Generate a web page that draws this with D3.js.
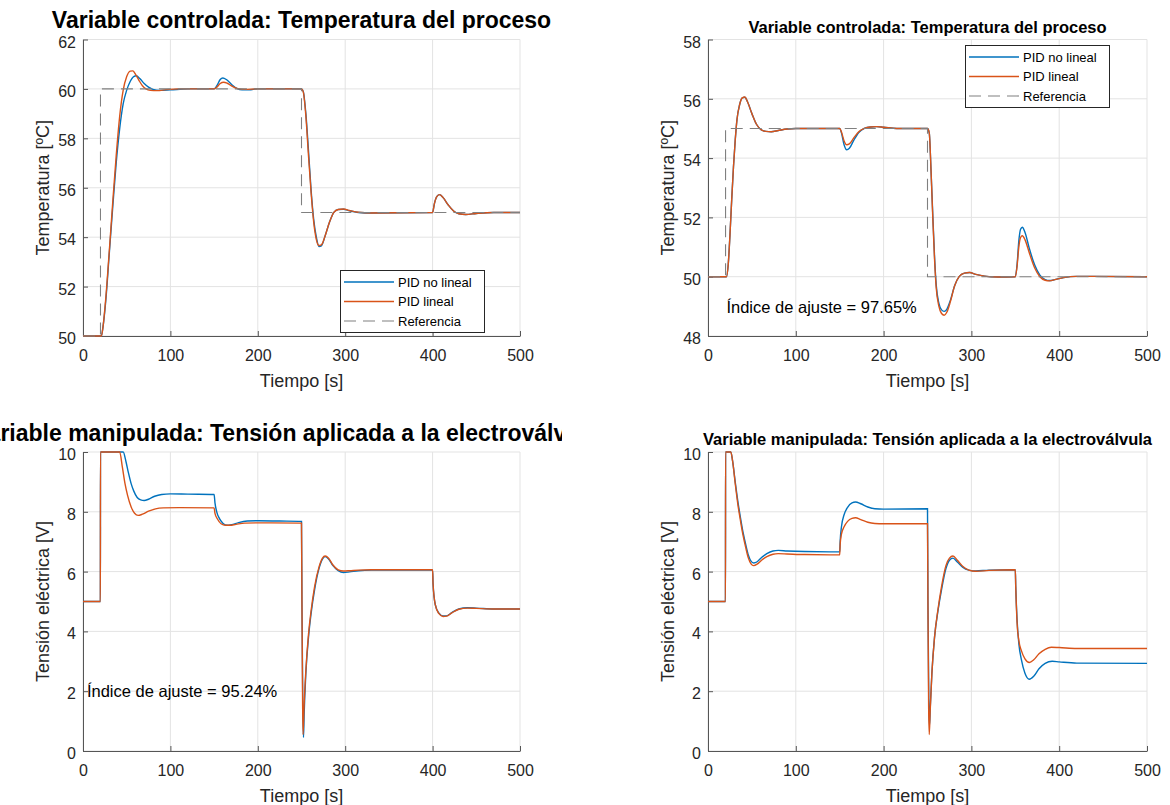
<!DOCTYPE html>
<html><head><meta charset="utf-8">
<script src="https://cdn.jsdelivr.net/npm/d3@7"></script>
<style>body{margin:0;background:#fff} text{font-family:"Liberation Sans",Arial,Helvetica,sans-serif}</style>
</head><body><svg id="c" width="1170" height="805"></svg>
<script>
// ---------- data ----------
const timeTicks = [0,100,200,300,400,500];
const tempTicksA = [50,52,54,56,58,60,62];
const tempTicksB = [48,50,52,54,56,58];
const voltTicks = [0,2,4,6,8,10];
const seriesNames = ["PID no lineal","PID lineal","Referencia"];
const titles = ["Variable controlada: Temperatura del proceso","Variable manipulada: Tensión aplicada a la electroválvula"];
const yLabels = ["Temperatura [ºC]","Tensión eléctrica [V]"];
const xLabel = "Tiempo [s]";
const fitTexts = ["Índice de ajuste = 97.65%","Índice de ajuste = 95.24%"];

// Panel A (top-left): temperature
const refA = [[0,50],[20,50],[20,60],[250,60],[250,55],[500,55]];
const blueA = [[0,50],[21,50],[23,50.4],[26,51.4],[30,53.3],[34,55.2],[38,57],[42,58.4],[46,59.4],[50,59.95],[54,60.3],[58,60.5],[61,60.53],[65,60.42],[70,60.22],[75,60.07],[80,59.98],[88,59.94],[100,59.96],[120,60],[150,60],[153,60.12],[157,60.38],[160,60.44],[164,60.38],[170,60.18],[176,60.02],[182,59.96],[190,59.96],[200,60],[250,60],[252,59.9],[255,59],[258,57.5],[261,55.9],[264,54.7],[267,54],[270,53.62],[273,53.66],[277,54.05],[282,54.6],[287,55],[292,55.12],[298,55.13],[305,55.07],[315,55],[330,54.98],[400,55],[402,55.35],[405,55.65],[408,55.72],[412,55.6],[418,55.3],[424,55.06],[430,54.95],[438,54.92],[450,54.96],[470,55],[500,55]];
const orangeA = [[0,50],[21,50],[23,50.4],[26,51.5],[30,53.4],[34,55.4],[38,57.3],[42,58.9],[46,59.95],[50,60.5],[54,60.72],[57,60.73],[60,60.6],[64,60.35],[68,60.13],[72,60.0],[77,59.94],[85,59.93],[95,59.97],[110,60],[150,60],[153,60.07],[157,60.22],[161,60.27],[165,60.23],[171,60.1],[177,60.01],[185,59.98],[200,60],[250,60],[252,59.88],[255,58.9],[258,57.3],[261,55.8],[264,54.6],[267,53.9],[270,53.66],[273,53.7],[277,54.05],[282,54.6],[287,55.0],[292,55.12],[298,55.14],[305,55.08],[315,55.01],[330,54.98],[400,55],[402,55.35],[405,55.65],[408,55.72],[412,55.6],[418,55.3],[424,55.06],[430,54.95],[438,54.92],[450,54.96],[470,55],[500,55]];

// Panel B (top-right): temperature
const refB = [[0,50],[20,50],[20,55],[250,55],[250,50],[500,50]];
const blueB = [[0,50],[21,50],[23,50.4],[25,51.4],[27,52.6],[29,53.7],[31,54.6],[33,55.3],[36,55.8],[39,56.03],[42,56.05],[45,55.9],[50,55.5],[55,55.15],[60,54.97],[66,54.9],[72,54.89],[80,54.93],[90,54.98],[100,55],[150,55],[152,54.85],[155,54.45],[158,54.28],[161,54.33],[166,54.6],[172,54.87],[178,55.0],[185,55.05],[192,55.06],[200,55.04],[215,55],[250,55],[252,54.85],[254,53.6],[256,52.1],[258,50.7],[260,49.7],[263,49.1],[266,48.88],[269,48.83],[272,48.9],[276,49.2],[281,49.7],[286,50.0],[292,50.12],[298,50.14],[305,50.08],[315,50.02],[330,49.99],[350,50],[352,50.4],[354,51.2],[356,51.6],[358,51.67],[361,51.5],[366,50.95],[372,50.4],[378,50.05],[384,49.9],[389,49.87],[395,49.9],[405,49.97],[420,50.01],[440,50.01],[500,50]];
const orangeB = [[0,50],[21,50],[23,50.4],[25,51.4],[27,52.6],[29,53.7],[31,54.6],[33,55.3],[36,55.8],[39,56.03],[42,56.06],[45,55.9],[50,55.5],[55,55.15],[60,54.97],[66,54.9],[72,54.89],[80,54.93],[90,54.98],[100,55],[150,55],[152,54.88],[155,54.58],[158,54.45],[161,54.48],[166,54.68],[172,54.9],[178,55.0],[185,55.05],[192,55.06],[200,55.04],[215,55],[250,55],[252,54.85],[254,53.6],[256,52.0],[258,50.6],[260,49.6],[263,49.0],[266,48.76],[269,48.7],[272,48.8],[276,49.15],[281,49.7],[286,50.0],[292,50.12],[298,50.14],[305,50.08],[315,50.02],[330,49.99],[350,50],[352,50.35],[354,51.0],[356,51.32],[358,51.38],[361,51.25],[366,50.8],[372,50.3],[378,50.0],[384,49.88],[389,49.86],[395,49.9],[405,49.97],[420,50.01],[440,50.01],[500,50]];

// Panel C (bottom-left): voltage
const blueC = [[0,5],[19.9,5],[20,10],[46,10],[49,9.7],[52,9.3],[55,8.95],[58,8.7],[62,8.48],[66,8.4],[70,8.38],[75,8.42],[82,8.52],[90,8.58],[100,8.6],[120,8.59],[150,8.58],[151,8.3],[153,8.0],[156,7.78],[160,7.62],[165,7.55],[170,7.57],[178,7.64],[188,7.69],[200,7.7],[225,7.69],[250,7.68],[250.5,5],[251.5,1.5],[252.3,0.45],[253,1.2],[255,2.6],[258,3.8],[261,4.6],[265,5.4],[270,6.1],[274,6.42],[277,6.5],[281,6.42],[286,6.2],[292,6.03],[298,5.97],[305,5.99],[315,6.03],[330,6.05],[400,6.05],[400.5,5.6],[403,4.9],[407,4.62],[412,4.52],[416,4.52],[422,4.63],[430,4.75],[440,4.79],[450,4.78],[470,4.75],[500,4.75]];
const orangeC = [[0,5],[19.9,5],[20,10],[42,10],[45,9.5],[48,8.95],[51,8.55],[55,8.17],[59,7.95],[63,7.88],[68,7.92],[75,8.02],[83,8.1],[92,8.13],[110,8.14],[150,8.13],[151,7.95],[154,7.75],[158,7.6],[163,7.55],[168,7.55],[175,7.58],[185,7.62],[200,7.63],[250,7.62],[250.5,5],[251.3,1.5],[251.8,0.55],[252.8,1.4],[255,2.7],[258,3.9],[261,4.7],[265,5.5],[270,6.15],[274,6.45],[277,6.52],[281,6.45],[286,6.22],[292,6.06],[298,6.02],[305,6.03],[315,6.05],[330,6.06],[400,6.06],[400.5,5.6],[403,4.9],[407,4.6],[412,4.5],[416,4.51],[422,4.62],[430,4.74],[440,4.78],[450,4.77],[470,4.75],[500,4.75]];

// Panel D (bottom-right): voltage
const blueD = [[0,5],[19.9,5],[20,10],[26,10],[28,9.7],[31,9.0],[34,8.35],[37,7.8],[40,7.3],[43,6.9],[46,6.55],[49,6.35],[52,6.29],[56,6.33],[61,6.47],[67,6.6],[74,6.69],[80,6.71],[90,6.69],[110,6.67],[150,6.66],[150.5,7.0],[152,7.5],[155,7.9],[159,8.15],[164,8.3],[168,8.33],[174,8.27],[182,8.16],[190,8.1],[200,8.09],[250,8.1],[250.5,5],[251.5,1.6],[252.3,0.85],[253.2,1.5],[255,2.6],[258,3.8],[262,4.7],[266,5.4],[271,6.1],[275,6.38],[279,6.45],[284,6.32],[290,6.15],[297,6.05],[305,6.02],[320,6.05],[350,6.06],[350.5,5.5],[352,4.4],[354,3.6],[357,3.05],[361,2.6],[366,2.4],[371,2.5],[377,2.75],[384,2.93],[392,3.0],[400,2.98],[420,2.94],[500,2.93]];
const orangeD = [[0,5],[19.9,5],[20,10],[26,10],[28,9.7],[31,8.95],[34,8.25],[37,7.7],[40,7.2],[43,6.8],[46,6.45],[49,6.26],[52,6.2],[56,6.25],[61,6.38],[67,6.5],[74,6.58],[80,6.6],[90,6.59],[110,6.57],[150,6.56],[150.5,6.9],[152,7.25],[155,7.5],[159,7.68],[164,7.78],[168,7.8],[174,7.74],[182,7.65],[190,7.61],[200,7.6],[250,7.6],[250.5,5],[251.3,1.5],[252,0.55],[253,1.3],[255,2.6],[258,3.8],[262,4.75],[266,5.5],[271,6.2],[275,6.45],[279,6.52],[284,6.38],[290,6.18],[297,6.05],[305,6.01],[320,6.04],[350,6.06],[350.5,5.5],[352,4.3],[354,3.7],[357,3.35],[361,3.08],[366,2.96],[371,3.05],[377,3.25],[384,3.4],[391,3.47],[400,3.46],[420,3.43],[500,3.43]];

// ---------- drawing ----------
const BLUE = "#0072BD", ORANGE = "#D95319", REF = "#808080";
const svg = d3.select("#c");
svg.append("rect").attr("width",1170).attr("height",805).attr("fill","#fff");
const defs = svg.append("defs");
defs.append("clipPath").attr("id","titleclip").append("rect").attr("x",0).attr("y",380).attr("width",562).attr("height",80);

const panels = [
  {l:83,t:39.5,w:437,h:296.5,yd:[50,62],yt:tempTicksA,title:titles[0],ts:23,ylab:yLabels[0],
   blue:blueA,orange:orangeA,ref:refA,legend:{x:340,y:270},fit:null},
  {l:708,t:39.5,w:439,h:296.5,yd:[48,58],yt:tempTicksB,title:titles[0],ts:16.5,ylab:yLabels[0],
   blue:blueB,orange:orangeB,ref:refB,legend:{x:965,y:45},fit:{text:fitTexts[0],x:21,y:48.78}},
  {l:83,t:452,w:437,h:299,yd:[0,10],yt:voltTicks,title:titles[1],ts:23,ylab:yLabels[1],clip:true,
   blue:blueC,orange:orangeC,ref:null,legend:null,fit:{text:fitTexts[1],x:4.5,y:1.8}},
  {l:708,t:452,w:439,h:299,yd:[0,10],yt:voltTicks,title:titles[1],ts:16.5,ylab:yLabels[1],
   blue:blueD,orange:orangeD,ref:null,legend:null,fit:null}
];

panels.forEach((p,i)=>{
  const g = svg.append("g").attr("transform",`translate(${p.l},${p.t})`);
  const x = d3.scaleLinear().domain([0,500]).range([0,p.w]);
  const y = d3.scaleLinear().domain(p.yd).range([p.h,0]);
  // grid
  g.append("g").selectAll("line").data(timeTicks).join("line")
    .attr("x1",d=>x(d)).attr("x2",d=>x(d)).attr("y1",0).attr("y2",p.h)
    .attr("stroke","#e3e3e3").attr("stroke-width",1);
  g.append("g").selectAll("line").data(p.yt).join("line")
    .attr("y1",d=>y(d)).attr("y2",d=>y(d)).attr("x1",0).attr("x2",p.w)
    .attr("stroke","#e3e3e3").attr("stroke-width",1);
  // clip for data
  const cid = "pc"+i;
  defs.append("clipPath").attr("id",cid).append("rect").attr("x",p.l-1).attr("y",p.t-2).attr("width",p.w+2).attr("height",p.h+4);
  const dg = svg.append("g").attr("clip-path",`url(#${cid})`).append("g").attr("transform",`translate(${p.l},${p.t})`);
  const smooth = d3.line().x(d=>x(d[0])).y(d=>y(d[1])).curve(d3.curveMonotoneX);
  const lin = d3.line().x(d=>x(d[0])).y(d=>y(d[1]));
  dg.append("path").attr("d",smooth(p.blue)).attr("fill","none").attr("stroke",BLUE).attr("stroke-width",1.4);
  dg.append("path").attr("d",smooth(p.orange)).attr("fill","none").attr("stroke",ORANGE).attr("stroke-width",1.4);
  if(p.ref) dg.append("path").attr("d",lin(p.ref)).attr("fill","none").attr("stroke",REF).attr("stroke-width",1.1).attr("stroke-dasharray","12,7");
  // axes
  const ax = g.append("g").attr("transform",`translate(0,${p.h})`)
    .call(d3.axisBottom(x).tickValues(timeTicks).tickSize(-5).tickSizeOuter(0).tickPadding(14));
  const ay = g.append("g").call(d3.axisLeft(y).tickValues(p.yt).tickSize(-5).tickSizeOuter(0).tickPadding(7));
  [ax,ay].forEach(a=>{
    a.select(".domain").attr("stroke","#555").attr("stroke-width",1);
    a.selectAll(".tick line").attr("stroke","#555").attr("stroke-width",1);
    a.selectAll("text").attr("fill","#262626").style("font-size","16px").style("font-family",'"Liberation Sans",Arial,sans-serif');
  });
  ax.selectAll("text").attr("y",25).attr("dy",null);
  ay.selectAll("text").attr("dy","0.47em");
  // labels
  g.append("text").attr("x",p.w/2).attr("y",p.h+51).attr("text-anchor","middle")
    .attr("fill","#262626").style("font-size","18px").text(xLabel);
  g.append("text").attr("transform",`translate(-34.5,${p.h/2}) rotate(-90)`).attr("text-anchor","middle")
    .attr("fill","#262626").style("font-size","18px").text(p.ylab);
  // title
  const tOff = p.ts>20 ? -11.5 : -7;
  const tg = p.clip ? svg.append("g").attr("clip-path","url(#titleclip)") : svg;
  tg.append("text").attr("x",p.l+p.w/2-(p.clip?15:0)).attr("y",p.t+tOff).attr("text-anchor","middle")
    .attr("fill","#000").style("font-size",p.ts+"px").style("font-weight","bold").text(p.title);
  // fit index
  if(p.fit){
    g.append("text").attr("x",x(p.fit.x)).attr("y",y(p.fit.y)).attr("fill","#000")
      .style("font-size","16.5px").text(p.fit.text);
  }
  // legend
  if(p.legend){
    const lg = svg.append("g").attr("transform",`translate(${p.legend.x},${p.legend.y})`);
    lg.append("rect").attr("x",0.5).attr("y",0.5).attr("width",144).attr("height",62)
      .attr("fill","#fff").attr("stroke","#262626").attr("stroke-width",1);
    const cols = [BLUE,ORANGE,REF];
    seriesNames.forEach((n,k)=>{
      const yy = 12+k*19.5;
      lg.append("line").attr("x1",4).attr("x2",54).attr("y1",yy).attr("y2",yy)
        .attr("stroke",cols[k]).attr("stroke-width",k==2?1.1:1.4).attr("stroke-dasharray",k==2?"12,7":null);
      lg.append("text").attr("x",58).attr("y",yy+4.7).attr("fill","#000").style("font-size","13px").text(n);
    });
  }
});
</script></body></html>
